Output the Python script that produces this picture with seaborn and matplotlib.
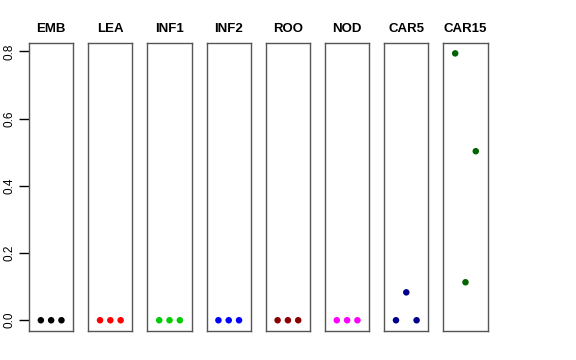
import matplotlib
matplotlib.use("Agg")
import matplotlib.pyplot as plt
import seaborn as sns
import pandas as pd

sns.set_style("ticks")
plt.rcParams['font.family'] = ['Liberation Sans', 'DejaVu Sans']
plt.rcParams['text.color'] = 'black'
plt.rcParams['ytick.color'] = 'black'
plt.rcParams['ytick.labelcolor'] = 'black'
plt.rcParams['ytick.major.size'] = 7
plt.rcParams['ytick.major.width'] = 1.0

categories = ["EMB", "LEA", "INF1", "INF2", "ROO", "NOD", "CAR5", "CAR15"]
colors = ["#000000", "#FF0000", "#00CD00", "#0000FF", "#8B0000", "#FF00FF", "#00008B", "#006400"]
replicate = [1, 2, 3]
emb = [0.0, 0.0, 0.0]
lea = [0.0, 0.0, 0.0]
inf1 = [0.0, 0.0, 0.0]
inf2 = [0.0, 0.0, 0.0]
roo = [0.0, 0.0, 0.0]
nod = [0.0, 0.0, 0.0]
car5 = [0.0, 0.083, 0.0]
car15 = [0.794, 0.113, 0.503]
series = [emb, lea, inf1, inf2, roo, nod, car5, car15]
yticks = [0.0, 0.2, 0.4, 0.6, 0.8]

W, H = 576, 360
fig = plt.figure(figsize=(W / 100, H / 100), dpi=100)

left0, step, pw = 29.0, 59.19, 44.3
top, bottom = 43.3, 331.0

for i, (cat, col, vals) in enumerate(zip(categories, colors, series)):
    x0 = left0 + step * i
    ax = fig.add_axes([x0 / W, 1 - bottom / H, pw / W, (bottom - top) / H])
    df = pd.DataFrame({"x": replicate, "y": vals})
    sns.scatterplot(data=df, x="x", y="y", ax=ax, color=col, s=22, edgecolor="none", linewidth=0)
    ax.set_xlim(2 - 2.15, 2 + 2.15)
    ax.set_ylim(-0.032, 0.824)
    ax.set_xticks([])
    ax.set_xlabel("")
    ax.set_ylabel("")
    ax.set_title(cat, fontsize=9.5, fontweight="bold", pad=8, color="black")
    for s in ax.spines.values():
        s.set_visible(True)
        s.set_color("#555555")
        s.set_linewidth(1.0)
    if i == 0:
        ax.set_yticks(yticks)
        ax.set_yticklabels([f"{v:.1f}" for v in yticks], rotation=90, va="center", fontsize=8.5, color="black")
        ax.tick_params(axis="y", which="major", left=True, direction="out", length=7, width=1.0, color="black", pad=3)
    else:
        ax.set_yticks([])

fig.savefig("out.png", dpi=100)
